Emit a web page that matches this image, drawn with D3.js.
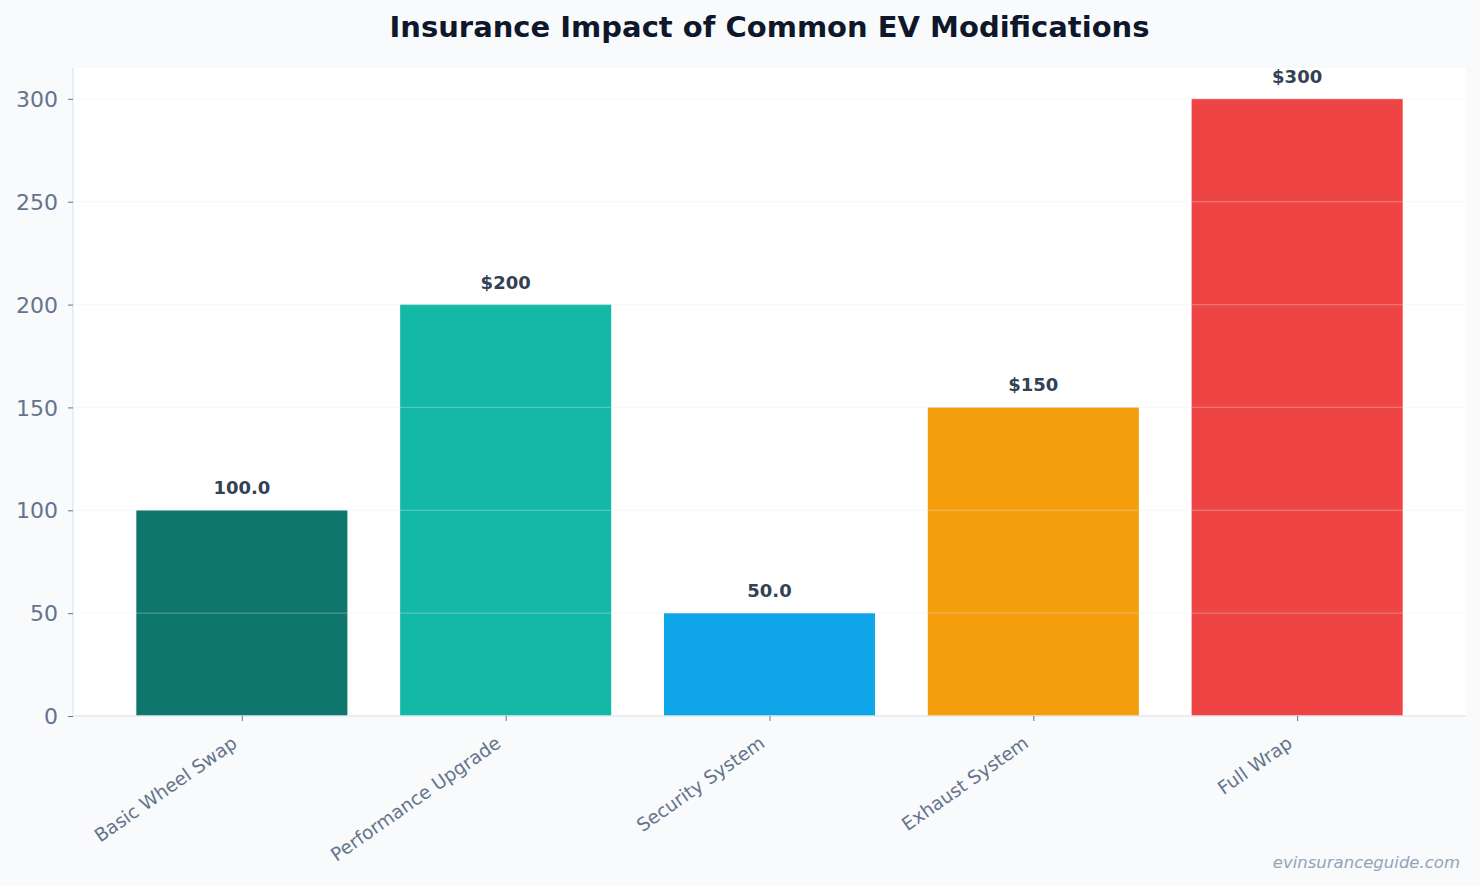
<!DOCTYPE html>
<html><head><meta charset="utf-8">
<script src="https://cdn.jsdelivr.net/npm/d3@7"></script>
<style>
html,body{margin:0;padding:0;background:#f8fafc;}
svg{display:block;font-family:"DejaVu Sans",sans-serif;}
</style></head>
<body>
<svg id="chart" width="1480" height="886"></svg>
<script>
const categories = ["Basic Wheel Swap","Performance Upgrade","Security System","Exhaust System","Full Wrap"];
const values = [100, 200, 50, 150, 300];
const valueLabels = ["100.0","$200","50.0","$150","$300"];
const colors = ["#0f766e","#14b8a6","#0ea5e9","#f59e0b","#ef4444"];
const yTicks = [0,50,100,150,200,250,300];
const titleText = "Insurance Impact of Common EV Modifications";
const watermark = "evinsuranceguide.com";

const W = 1480, H = 886;
const m = {left:73, right:14, top:68, bottom:170};
const svg = d3.select("#chart");
svg.append("rect").attr("width",W).attr("height",H).attr("fill","#f8fafc");

const pw = W - m.left - m.right, ph = H - m.top - m.bottom;
const g = svg.append("g").attr("transform",`translate(${m.left},${m.top})`);

const x = d3.scaleLinear().domain([-0.64, categories.length - 1 + 0.64]).range([0, pw]);
const y = d3.scaleLinear().domain([0, 315]).range([ph, 0]);
const bw = x(0.8) - x(0);

g.append("rect").attr("width",pw).attr("height",ph).attr("fill","#ffffff");

g.selectAll("rect.bar").data(values).enter().append("rect")
  .attr("class","bar")
  .attr("x",(d,i)=>x(i)-bw/2).attr("width",bw)
  .attr("y",d=>y(d)).attr("height",d=>ph-y(d))
  .attr("fill",(d,i)=>colors[i]);

// gridlines on top
g.selectAll("line.grid").data(yTicks.filter(t=>t>0)).enter().append("line")
  .attr("x1",0).attr("x2",pw).attr("y1",d=>y(d)).attr("y2",d=>y(d))
  .attr("stroke","#e2e8f0").attr("stroke-opacity",0.3).attr("stroke-width",1.2);

// value labels
g.selectAll("text.val").data(values).enter().append("text")
  .attr("x",(d,i)=>x(i)).attr("y",d=>y(d)-16)
  .attr("text-anchor","middle").attr("font-weight","bold")
  .attr("font-size",18).attr("fill","#334155")
  .text((d,i)=>valueLabels[i]);

// y axis
const yAxis = d3.axisLeft(y).tickValues(yTicks).tickSize(5).tickPadding(10);
const ya = g.append("g").call(yAxis);
ya.select(".domain").attr("stroke","#e2e8f0").attr("stroke-width",1.5).attr("d",`M0,${ph}V0`);
ya.selectAll(".tick line").attr("stroke","#64748b");
ya.selectAll(".tick text").attr("font-size",22).attr("fill","#64748b")
  .attr("font-family","DejaVu Sans").attr("dy","0.35em");

// x axis
const xAxis = d3.axisBottom(x).tickValues(d3.range(categories.length))
  .tickFormat(i=>categories[i]).tickSize(5).tickPadding(4);
const xa = g.append("g").attr("transform",`translate(0,${ph})`).call(xAxis);
xa.select(".domain").attr("stroke","#e2e8f0").attr("stroke-width",1.5).attr("d",`M0,0H${pw}`);
xa.selectAll(".tick line").attr("stroke","#64748b");
xa.selectAll(".tick text").attr("font-size",18.5).attr("fill","#64748b")
  .attr("font-family","DejaVu Sans")
  .attr("text-anchor","end").attr("x",0).attr("y",0).attr("dy",0)
  .attr("transform","translate(-4,30) rotate(-35)");

// title
svg.append("text").attr("x",m.left+pw/2).attr("y",37)
  .attr("text-anchor","middle").attr("font-weight","bold").attr("font-size",29)
  .attr("fill","#0f172a").text(titleText);

svg.append("text").attr("x",1460).attr("y",868).attr("text-anchor","end")
  .attr("font-style","italic").attr("font-size",16.5).attr("fill","#94a3b8")
  .text(watermark);
</script>
</body></html>
